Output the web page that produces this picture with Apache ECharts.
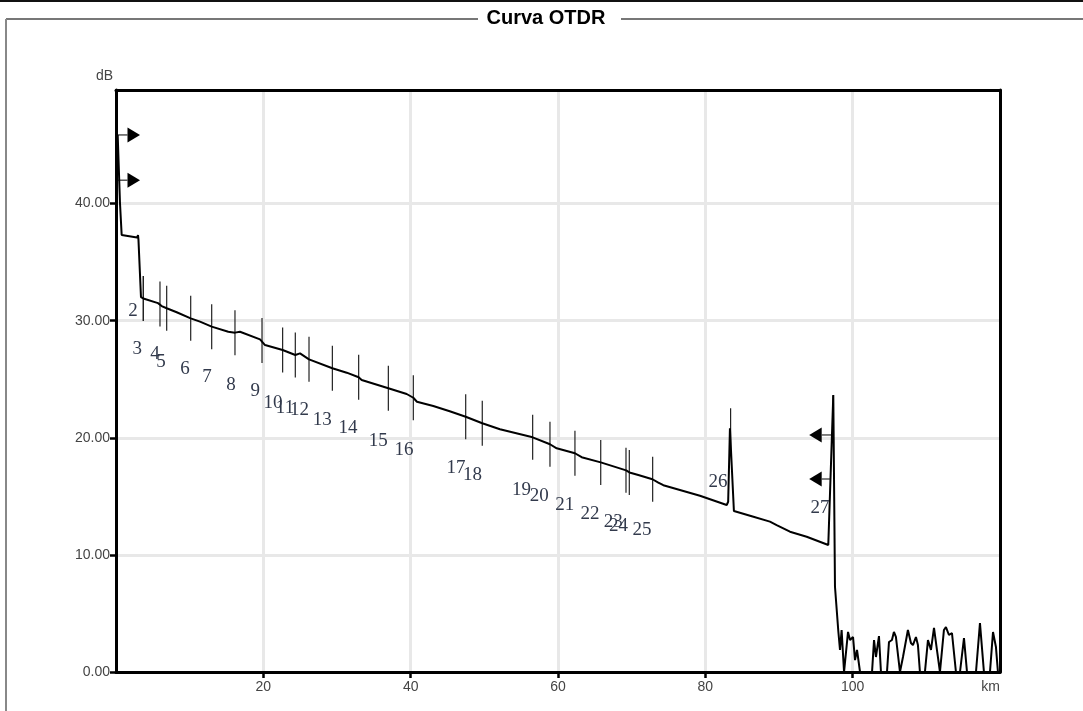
<!DOCTYPE html>
<html><head><meta charset="utf-8">
<script src="https://cdn.jsdelivr.net/npm/echarts@6/dist/echarts.min.js"></script>
<style>html,body{margin:0;padding:0;background:#fff}#c{width:1083px;height:711px}</style>
</head><body><div id="c"></div>
<script>
// OTDR trace (distance km, level dB)
const traceKm = [0.23,0.54,0.77,2.85,2.99,3.05,3.39,3.71,3.94,5.70,5.97,6.2,6.88,8.24,10.14,11.4,12.99,15.24,16.15,16.83,19.55,19.82,20.23,22.62,24.34,24.98,26.2,29.37,31.32,32.94,33.35,36.97,39.46,40.36,40.85,43.07,45.3,47.47,49.72,52.12,56.56,58.91,59.82,62.3,63.21,65.8,69.25,69.7,70.9,72.82,73.62,74.3,79.27,82.9,83.1,83.34,83.88,86.3,88.77,89.68,91.49,93.76,96.69,96.75,97.37,97.6,98.05,98.28,98.5,98.83,99.37,99.64,100.05,100.32,100.59,101.0,102.63,102.9,103.16,103.57,103.84,104.66,104.93,105.33,105.6,105.87,106.42,106.83,107.5,107.91,108.18,108.59,108.86,109.13,109.81,110.22,110.63,111.04,111.44,111.85,112.39,112.66,113.07,113.48,114.02,114.57,115.11,115.52,116.74,117.28,117.82,118.64,119.05,119.45,119.72];
const traceDb = [45.86,40.05,37.32,37.1,37.3,36.9,32.02,31.9,31.82,31.5,31.43,31.25,31.06,30.72,30.2,29.92,29.49,29.06,28.98,29.06,28.41,28.3,27.92,27.5,27.07,27.21,26.7,25.94,25.56,25.17,24.94,24.23,23.74,23.42,23.08,22.72,22.27,21.8,21.24,20.73,20.04,19.45,19.1,18.68,18.34,17.9,17.22,17.04,16.82,16.46,16.17,15.95,15.05,14.26,14.54,20.81,13.75,13.3,12.84,12.55,11.98,11.55,10.85,10.9,23.66,7.28,3.5,1.88,3.59,0,3.42,2.73,2.99,1.02,1.88,0,0,2.73,1.28,3.07,0,0,2.56,2.73,3.42,2.99,0,1.28,3.59,2.48,2.3,2.99,2.3,0,0,2.73,1.88,3.76,1.88,0,3.59,3.84,3.16,3.33,0,0,2.9,0,0,4.18,0,0,3.42,2.13,0];

// Events
const eventLabels = ['2','3','4','5','6','7','8','9','10','11','12','13','14','15','16','17','18','19','20','21','22','23','24','25','26','27'];
const eventKm = [3.71,3.71,5.97,6.88,10.14,12.99,16.15,19.82,22.62,24.34,26.2,29.37,32.94,36.97,40.36,47.47,49.72,56.56,58.91,62.3,65.8,69.23,69.68,72.85,83.43,97.33];
const eventDb = [31.9,31.9,31.43,31.06,30.2,29.49,28.98,28.3,27.5,27.07,26.7,25.94,25.17,24.23,23.42,21.8,21.24,20.04,19.45,18.68,17.9,17.22,17.04,16.46,20.6,21.7];
const labelKm = [2.31,2.9,5.29,6.11,9.37,12.35,15.6,18.9,21.3,22.94,24.9,28.0,31.5,35.6,39.1,46.15,48.4,55.05,57.45,60.9,64.35,67.5,68.2,71.4,81.72,95.56];
const labelDb = [30.83,27.6,27.16,26.5,25.85,25.15,24.51,24.0,22.95,22.55,22.38,21.55,20.8,19.75,18.96,17.45,16.82,15.54,15.03,14.26,13.5,12.85,12.5,12.1,16.25,14.0];

// Axis ticks
const xTickValues = [20, 40, 60, 80, 100];
const xLabelValues = [20, 40, 60, 80, 100, 120];
const yTickValues = [0, 10, 20, 30, 40];

// Cursor arrows
const arrowStartKm = [0.23, 0.3, 97.2, 96.9];
const arrowTipKm = [3.26, 3.26, 94.1, 94.1];
const arrowDb = [45.86, 42.0, 20.24, 16.48];

const chart = echarts.init(document.getElementById('c'), null, {renderer:'canvas'});
const lbl = {color:'#444',fontSize:14,fontFamily:'Liberation Sans'};
const frameAxis = {type:'value',axisLine:{show:true,onZero:false,lineStyle:{color:'#000',width:3}},
  axisTick:{show:false},axisLabel:{show:false},splitLine:{show:false}};
chart.setOption({
  animation:false,
  backgroundColor:'#fff',
  graphic:[
    {type:'line',shape:{x1:0,y1:1,x2:1083,y2:1},style:{stroke:'#111',lineWidth:2},silent:true},
    {type:'line',shape:{x1:6,y1:19,x2:478,y2:19},style:{stroke:'#777',lineWidth:2},silent:true},
    {type:'line',shape:{x1:621,y1:19,x2:1083,y2:19},style:{stroke:'#777',lineWidth:2},silent:true},
    {type:'line',shape:{x1:6,y1:19,x2:6,y2:711},style:{stroke:'#888',lineWidth:2},silent:true},
    {type:'text',x:546,y:18,style:{text:'Curva OTDR',font:'bold 20px "Liberation Sans", Arial, sans-serif',fill:'#000',align:'center',verticalAlign:'middle'},silent:true}
  ],
  grid:{left:116,right:83,top:90,bottom:39},
  xAxis:[{
    type:'value',min:0,max:120,interval:20,
    axisLine:{show:true,onZero:false,lineStyle:{color:'#000',width:3}},
    axisTick:{show:true,length:6,lineStyle:{color:'#000',width:2.5},customValues:xTickValues},
    splitLine:{show:true,showMinLine:true,showMaxLine:true,lineStyle:{color:'#e8e8e8',width:3}},
    axisLabel:Object.assign({},lbl,{margin:8,alignMaxLabel:'right',customValues:xLabelValues,
      formatter:v=>(v===120?'km':String(v))})
  },Object.assign({},frameAxis,{position:'top',min:0,max:120})],
  yAxis:[{
    type:'value',min:0,max:49.7,interval:10,
    axisLine:{show:true,onZero:false,lineStyle:{color:'#000',width:3}},
    axisTick:{show:true,length:6,lineStyle:{color:'#000',width:2.5},customValues:yTickValues},
    splitLine:{show:true,showMinLine:false,showMaxLine:true,lineStyle:{color:'#e8e8e8',width:3}},
    name:'dB',nameLocation:'end',nameGap:7,
    nameTextStyle:Object.assign({},lbl,{align:'right',padding:[0,3,0,0]}),
    axisLabel:Object.assign({},lbl,{margin:6,customValues:yTickValues,formatter:v=>v.toFixed(2)})
  },Object.assign({},frameAxis,{position:'right',min:0,max:49.7})],
  series:[
    {type:'custom',silent:true,z:2,encode:{x:0,y:1},
      data:eventKm.map((k,i)=>[k,eventDb[i]]),
      renderItem:(p,api)=>{const c=api.coord([api.value(0),api.value(1)]);
        return {type:'line',shape:{x1:c[0],y1:c[1]-22.5,x2:c[0],y2:c[1]+22.5},style:{stroke:'#222',lineWidth:1.2}};}},
    {type:'line',z:3,clip:false,showSymbol:false,symbol:'none',
      data:traceKm.map((k,i)=>[k,traceDb[i]]),
      lineStyle:{color:'#000',width:2}},
    {type:'custom',silent:true,z:4,encode:{x:[0,1],y:2},
      data:arrowStartKm.map((k,i)=>[k,arrowTipKm[i],arrowDb[i]]),
      renderItem:(p,api)=>{const s=api.coord([api.value(0),api.value(2)]);const t=api.coord([api.value(1),api.value(2)]);
        const dir=t[0]>s[0]?1:-1;const bx=t[0]-dir*12.5;
        return {type:'group',children:[
          {type:'line',shape:{x1:s[0],y1:s[1],x2:bx,y2:s[1]},style:{stroke:'#000',lineWidth:1}},
          {type:'polygon',shape:{points:[[bx,s[1]-7.5],[t[0],s[1]],[bx,s[1]+7.5]]},style:{fill:'#000'}}]};}},
    {type:'custom',silent:true,z:5,encode:{x:0,y:1},
      data:labelKm.map((k,i)=>[k,labelDb[i]]),
      renderItem:(p,api)=>{const c=api.coord([api.value(0),api.value(1)]);
        return {type:'text',x:c[0],y:c[1],style:{text:eventLabels[p.dataIndex],font:'19px "Liberation Serif", "Times New Roman", serif',fill:'#323a4c',align:'center',verticalAlign:'middle'}};}}
  ]
});
</script></body></html>
